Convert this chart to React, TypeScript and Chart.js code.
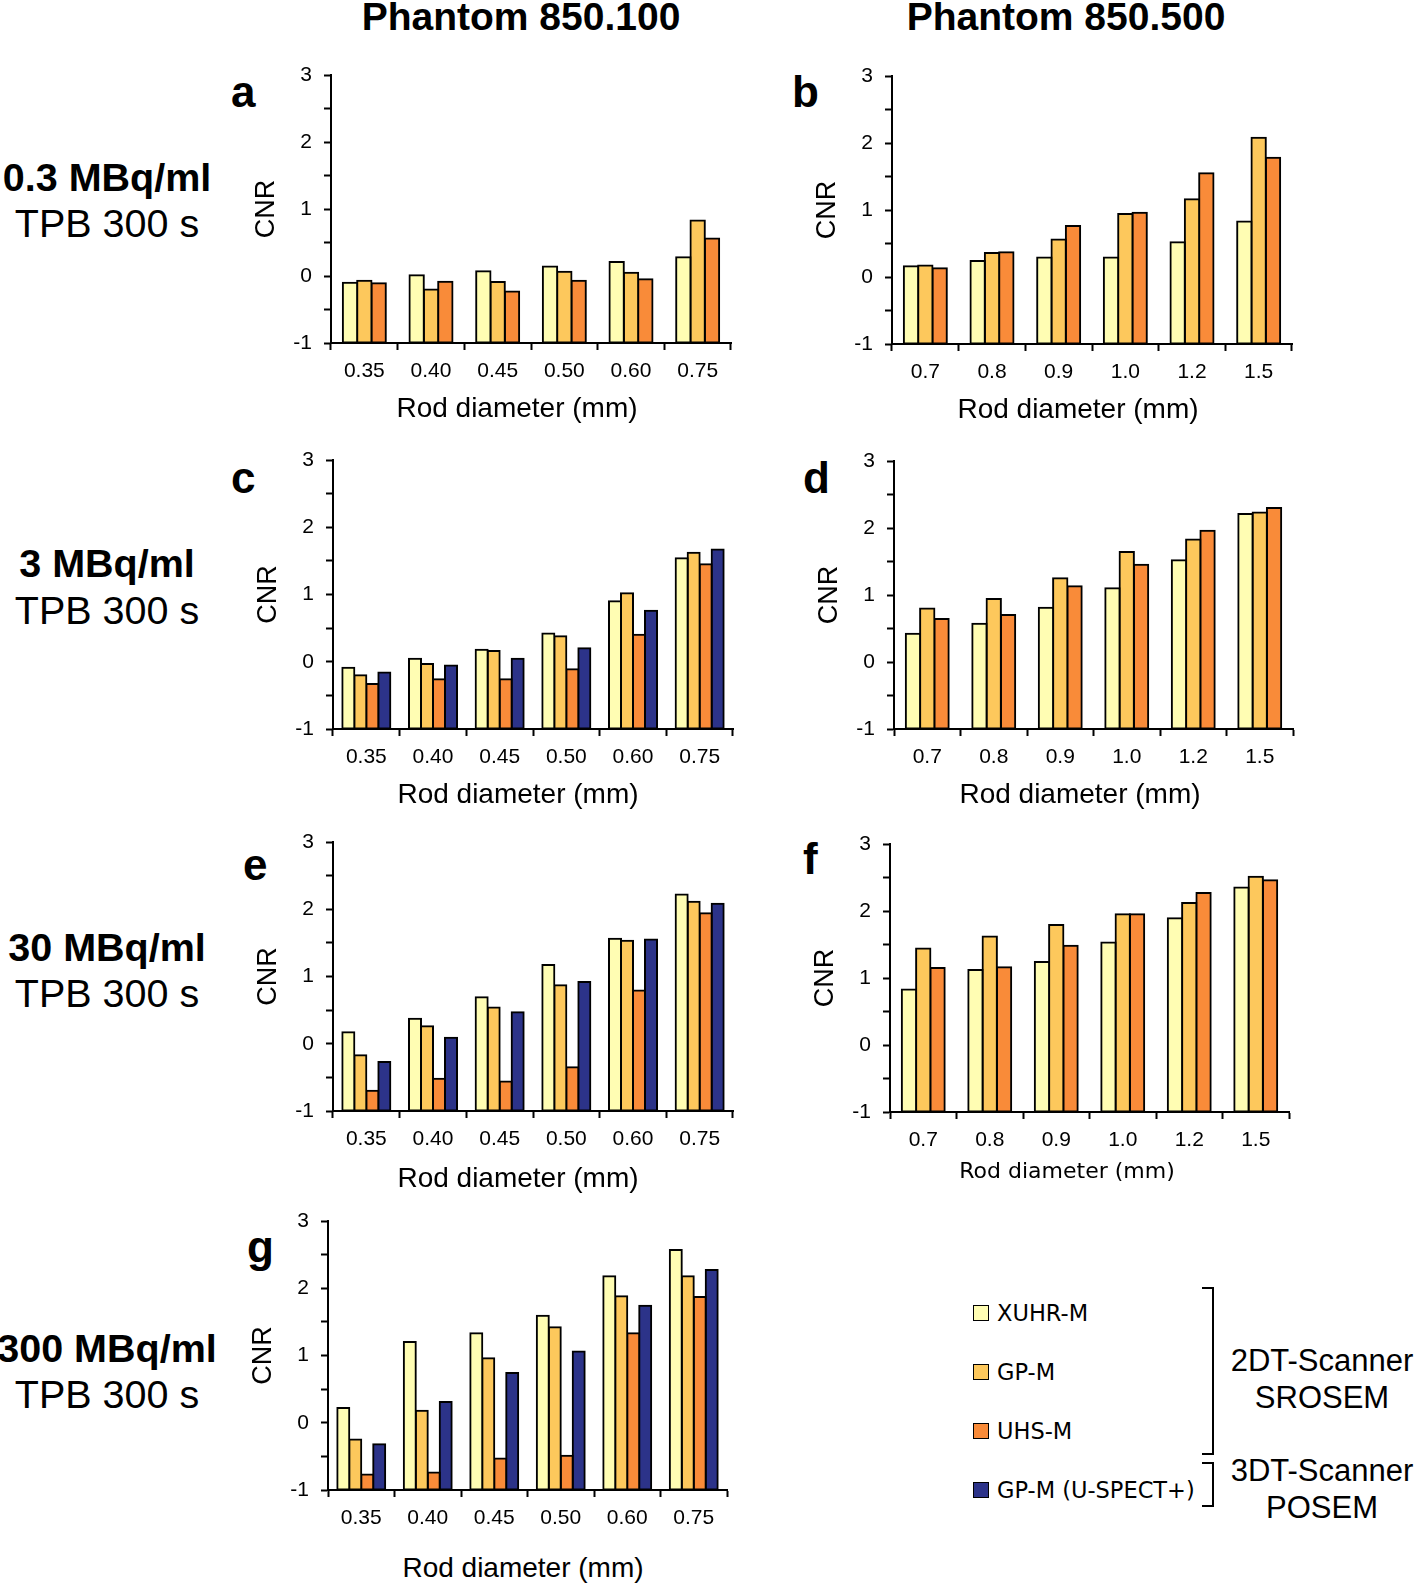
import React, { useEffect, useRef } from 'react';
import { Chart, registerables } from 'chart.js';

Chart.register(...registerables);

// ---------- data ----------
const catsSmall = ['0.35', '0.40', '0.45', '0.50', '0.60', '0.75'];
const catsLarge = ['0.7', '0.8', '0.9', '1.0', '1.2', '1.5'];

const seriesNames = ['XUHR-M', 'GP-M', 'UHS-M', 'GP-M (U-SPECT+)'];
const seriesColors = ['#FFFDB3', '#FDC85C', '#F98B39', '#2C3389'];

const yTicks = [-1, 0, 1, 2, 3];

// Panel a (850.100, 0.3 MBq/ml)
const aXUHR = [-0.10, 0.01, 0.07, 0.14, 0.21, 0.28];
const aGP = [-0.07, -0.20, -0.09, 0.065, 0.05, 0.83];
const aUHS = [-0.11, -0.085, -0.23, -0.07, -0.05, 0.56];

// Panel b (850.500, 0.3 MBq/ml)
const bXUHR = [0.16, 0.24, 0.29, 0.29, 0.52, 0.83];
const bGP = [0.17, 0.36, 0.56, 0.94, 1.16, 2.08];
const bUHS = [0.13, 0.37, 0.76, 0.96, 1.55, 1.78];

// Panel c (850.100, 3 MBq/ml)
const cXUHR = [-0.09, 0.045, 0.18, 0.42, 0.90, 1.54];
const cGP = [-0.20, -0.035, 0.16, 0.38, 1.02, 1.62];
const cUHS = [-0.33, -0.26, -0.26, -0.11, 0.40, 1.45];
const cSPECT = [-0.16, -0.055, 0.045, 0.20, 0.76, 1.67];

// Panel d (850.500, 3 MBq/ml)
const dXUHR = [0.42, 0.57, 0.81, 1.10, 1.52, 2.21];
const dGP = [0.80, 0.94, 1.25, 1.64, 1.83, 2.23];
const dUHS = [0.64, 0.70, 1.13, 1.45, 1.96, 2.30];

// Panel e (850.100, 30 MBq/ml)
const eXUHR = [0.17, 0.37, 0.69, 1.17, 1.56, 2.22];
const eGP = [-0.17, 0.26, 0.54, 0.87, 1.53, 2.11];
const eUHS = [-0.70, -0.52, -0.56, -0.35, 0.79, 1.94];
const eSPECT = [-0.27, 0.09, 0.47, 0.92, 1.55, 2.08];

// Panel f (850.500, 30 MBq/ml)
const fXUHR = [0.83, 1.12, 1.24, 1.53, 1.89, 2.35];
const fGP = [1.44, 1.62, 1.79, 1.95, 2.12, 2.51];
const fUHS = [1.15, 1.16, 1.48, 1.95, 2.27, 2.46];

// Panel g (850.100, 300 MBq/ml)
const gXUHR = [0.22, 1.20, 1.33, 1.59, 2.18, 2.57];
const gGP = [-0.25, 0.18, 0.96, 1.42, 1.88, 2.18];
const gUHS = [-0.77, -0.74, -0.53, -0.49, 1.33, 1.87];
const gSPECT = [-0.32, 0.31, 0.74, 1.06, 1.74, 2.27];

// ---------- layout ----------
const FONT = 'Liberation Sans, Arial, Helvetica, sans-serif';
const METRICS: Record<string, [number, number]> = {
  lib: [0.905, 0.212],
  dejavu: [0.928, 0.236],
};

type PanelDef = {
  id: string;
  L: number; T: number; W: number; H: number;
  labels: string[];
  data: number[][];
};

const panels: PanelDef[] = [
  { id: 'a', L: 331, T: 75, W: 400, H: 268, labels: catsSmall, data: [aXUHR, aGP, aUHS] },
  { id: 'b', L: 892, T: 76, W: 400, H: 268, labels: catsLarge, data: [bXUHR, bGP, bUHS] },
  { id: 'c', L: 333, T: 460, W: 400, H: 269, labels: catsSmall, data: [cXUHR, cGP, cUHS, cSPECT] },
  { id: 'd', L: 894, T: 461, W: 399, H: 268, labels: catsLarge, data: [dXUHR, dGP, dUHS] },
  { id: 'e', L: 333, T: 842, W: 400, H: 269, labels: catsSmall, data: [eXUHR, eGP, eUHS, eSPECT] },
  { id: 'f', L: 890, T: 844, W: 399, H: 268, labels: catsLarge, data: [fXUHR, fGP, fUHS] },
  { id: 'g', L: 328, T: 1221, W: 399, H: 269, labels: catsSmall, data: [gXUHR, gGP, gUHS, gSPECT] },
];

const YW = 100, PT = 32, PR = 20, XH = 50;

function BarPanel({ p }: { p: PanelDef }) {
  const ref = useRef<HTMLCanvasElement | null>(null);
  const cw = YW + p.W + PR;
  const ch = PT + p.H + XH;
  useEffect(() => {
    if (!ref.current) return;
    const n = p.data.length;
    const cp = n === 4 ? 0.72 : 0.645;
    const chart = new Chart(ref.current, {
      type: 'bar',
      data: {
        labels: p.labels,
        datasets: p.data.map((vals, i) => ({
          label: seriesNames[i],
          data: vals,
          backgroundColor: seriesColors[i],
          borderColor: '#000000',
          borderWidth: 2,
          borderSkipped: false,
          inflateAmount: 1,
          base: -1,
          categoryPercentage: cp,
          barPercentage: 1,
        })) as any,
      },
      options: {
        responsive: false,
        animation: false,
        events: [],
        layout: { padding: { left: 0, top: PT, right: PR, bottom: 0 } },
        plugins: { legend: { display: false }, tooltip: { enabled: false }, title: { display: false } },
        scales: {
          x: {
            type: 'category',
            offset: true,
            grid: { offset: true, drawOnChartArea: false, drawTicks: true, tickLength: 7, tickWidth: 2, tickColor: '#000' },
            border: { display: true, color: '#000', width: 2 },
            ticks: { color: '#000', font: { family: FONT, size: 21 }, padding: 9, maxRotation: 0, autoSkip: false },
            afterFit: (s: any) => { s.height = XH; },
          },
          y: {
            min: yTicks[0],
            max: yTicks[yTicks.length - 1],
            ticks: {
              stepSize: 0.5,
              color: '#000',
              font: { family: FONT, size: 21 },
              padding: 12,
              callback: (v: any) => (yTicks.includes(Number(v)) ? String(v) : ''),
            },
            grid: { drawOnChartArea: false, drawTicks: true, tickLength: 7, tickWidth: 2, tickColor: '#000' },
            border: { display: true, color: '#000', width: 2 },
            title: { display: true, text: 'CNR', color: '#000', font: { family: FONT, size: 27 }, padding: { top: 19, bottom: 0 } },
            afterFit: (s: any) => { s.width = YW; },
          },
        },
      } as any,
    });
    return () => chart.destroy();
  }, []);
  return (
    <canvas
      ref={ref}
      width={cw}
      height={ch}
      style={{ position: 'absolute', left: p.L - YW, top: p.T - PT, width: cw, height: ch }}
    />
  );
}

function Label({ text, x, baseline, size, weight = 400, font = 'lib', align = 'center' }: {
  text: string; x: number; baseline: number; size: number; weight?: number; font?: string; align?: 'center' | 'left';
}) {
  const [asc, desc] = METRICS[font];
  const lh = (asc + desc) * size;
  const family = font === 'lib' ? FONT : 'DejaVu Sans, sans-serif';
  return (
    <div
      style={{
        position: 'absolute',
        left: x,
        top: baseline - asc * size,
        transform: align === 'center' ? 'translateX(-50%)' : undefined,
        fontFamily: family,
        fontSize: size,
        fontWeight: weight,
        lineHeight: `${lh}px`,
        whiteSpace: 'nowrap',
        color: '#000',
      }}
    >
      {text}
    </div>
  );
}

const colTitles = [
  { text: 'Phantom 850.100', x: 521, baseline: 30 },
  { text: 'Phantom 850.500', x: 1066, baseline: 30 },
];

const rowLabels = [
  { bold: '0.3 MBq/ml', reg: 'TPB 300 s', b1: 191, b2: 237 },
  { bold: '3 MBq/ml', reg: 'TPB 300 s', b1: 577, b2: 624 },
  { bold: '30 MBq/ml', reg: 'TPB 300 s', b1: 961, b2: 1007 },
  { bold: '300 MBq/ml', reg: 'TPB 300 s', b1: 1362, b2: 1408 },
];

const letters = [
  { t: 'a', x: 231, b: 107 },
  { t: 'b', x: 792, b: 107 },
  { t: 'c', x: 231, b: 493 },
  { t: 'd', x: 803, b: 493 },
  { t: 'e', x: 243, b: 880 },
  { t: 'f', x: 803, b: 874 },
  { t: 'g', x: 247, b: 1262 },
];

const xTitles = [
  { x: 517, b: 417, font: 'lib', size: 28 },
  { x: 1078, b: 418, font: 'lib', size: 28 },
  { x: 518, b: 803, font: 'lib', size: 28 },
  { x: 1080, b: 803, font: 'lib', size: 28 },
  { x: 518, b: 1187, font: 'lib', size: 28 },
  { x: 1067, b: 1178, font: 'dejavu', size: 22 },
  { x: 523, b: 1577, font: 'lib', size: 28 },
];

const legendRows = [1313, 1372, 1431, 1490];

export default function App() {
  return (
    <div
      style={{
        position: 'fixed',
        left: 0,
        top: 0,
        width: 1417,
        height: 1583,
        overflow: 'hidden',
        background: '#fff',
      }}
    >
      {colTitles.map((c) => (
        <Label key={c.text} text={c.text} x={c.x} baseline={c.baseline} size={39} weight={700} />
      ))}
      {rowLabels.map((r) => (
        <React.Fragment key={r.bold}>
          <Label text={r.bold} x={107} baseline={r.b1} size={39.5} weight={700} />
          <Label text={r.reg} x={107} baseline={r.b2} size={39.5} />
        </React.Fragment>
      ))}
      {letters.map((l) => (
        <Label key={l.t} text={l.t} x={l.x} baseline={l.b} size={44} weight={700} align="left" />
      ))}
      {panels.map((p) => (
        <BarPanel key={p.id} p={p} />
      ))}
      {xTitles.map((t, i) => (
        <Label key={'xt' + i} text="Rod diameter (mm)" x={t.x} baseline={t.b} size={t.size} font={t.font} />
      ))}
      {/* legend */}
      {legendRows.map((y, i) => (
        <React.Fragment key={'lg' + i}>
          <div
            style={{
              position: 'absolute',
              left: 973,
              top: y - 8,
              width: 14,
              height: 14,
              background: seriesColors[i],
              border: '1.5px solid #000',
            }}
          />
          <Label text={seriesNames[i]} x={997} baseline={y + 8} size={22.5} font="dejavu" align="left" />
        </React.Fragment>
      ))}
      <div
        style={{
          position: 'absolute',
          left: 1202,
          top: 1287,
          width: 10,
          height: 164,
          borderTop: '2.5px solid #000',
          borderRight: '2.5px solid #000',
          borderBottom: '2.5px solid #000',
        }}
      />
      <div
        style={{
          position: 'absolute',
          left: 1202,
          top: 1462,
          width: 10,
          height: 41,
          borderTop: '2.5px solid #000',
          borderRight: '2.5px solid #000',
          borderBottom: '2.5px solid #000',
        }}
      />
      <Label text="2DT-Scanner" x={1322} baseline={1372} size={31} />
      <Label text="SROSEM" x={1322} baseline={1409} size={31} />
      <Label text="3DT-Scanner" x={1322} baseline={1482} size={31} />
      <Label text="POSEM" x={1322} baseline={1519} size={31} />
    </div>
  );
}
